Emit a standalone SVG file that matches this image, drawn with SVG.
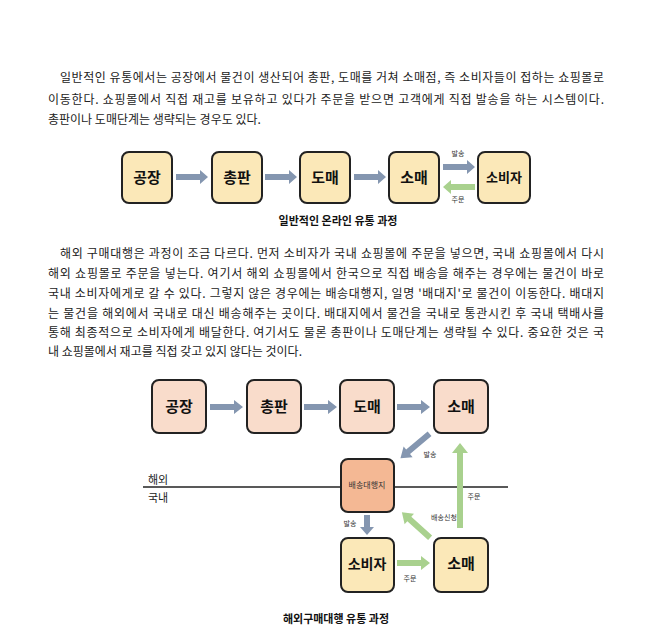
<svg xmlns="http://www.w3.org/2000/svg" width="652" height="641" viewBox="0 0 652 641">
<style>
.p{font-family:"Noto Sans CJK KR","Liberation Sans",sans-serif;font-size:12px;fill:#222}
.b{stroke:#222;stroke-width:2}
.y{fill:#fbe8b8}
.pk{fill:#f9dccb}
.or{fill:#f4b894}
.t{font-family:"Noto Sans CJK KR",sans-serif;font-weight:bold;font-size:15px;fill:#111;text-anchor:middle}
.s{font-family:"Noto Sans CJK KR",sans-serif;font-size:7px;fill:#333;text-anchor:middle}
.cap{font-family:"Noto Sans CJK KR",sans-serif;font-weight:bold;font-size:11px;fill:#111;text-anchor:middle}
.bl{fill:#8496b0}
.gr{fill:#a9d18e}
</style>
<defs>
<polygon id="da" points="-19,-3 9,-3 9,-7 19,0 9,7 9,3 -19,3"/>
</defs>
<rect width="652" height="641" fill="#fff"/>
<g id="para1">
<text class="p" x="60" y="82" textLength="544" lengthAdjust="spacing">일반적인 유통에서는 공장에서 물건이 생산되어 총판, 도매를 거쳐 소매점, 즉 소비자들이 접하는 쇼핑몰로</text>
<text class="p" x="48" y="104" textLength="556" lengthAdjust="spacing">이동한다. 쇼핑몰에서 직접 재고를 보유하고 있다가 주문을 받으면 고객에게 직접 발송을 하는 시스템이다.</text>
<text class="p" x="48" y="124">총판이나 도매단계는 생략되는 경우도 있다.</text>
</g>
<g id="para2">
<text class="p" x="60" y="258" textLength="544" lengthAdjust="spacing">해외 구매대행은 과정이 조금 다르다. 먼저 소비자가 국내 쇼핑몰에 주문을 넣으면, 국내 쇼핑몰에서 다시</text>
<text class="p" x="48" y="278" textLength="556" lengthAdjust="spacing">해외 쇼핑몰로 주문을 넣는다. 여기서 해외 쇼핑몰에서 한국으로 직접 배송을 해주는 경우에는 물건이 바로</text>
<text class="p" x="48" y="298" textLength="556" lengthAdjust="spacing">국내 소비자에게로 갈 수 있다. 그렇지 않은 경우에는 배송대행지, 일명 '배대지'로 물건이 이동한다. 배대지</text>
<text class="p" x="48" y="318" textLength="556" lengthAdjust="spacing">는 물건을 해외에서 국내로 대신 배송해주는 곳이다. 배대지에서 물건을 국내로 통관시킨 후 국내 택배사를</text>
<text class="p" x="48" y="337" textLength="556" lengthAdjust="spacing">통해 최종적으로 소비자에게 배달한다. 여기서도 물론 총판이나 도매단계는 생략될 수 있다. 중요한 것은 국</text>
<text class="p" x="48" y="356">내 쇼핑몰에서 재고를 직접 갖고 있지 않다는 것이다.</text>
</g>
<g id="d1-nodes">
<g id="d1-gongjang"><rect class="y b" x="122" y="152" width="50" height="51" rx="7"/><text class="t" x="147" y="183">공장</text></g>
<g id="d1-chongpan"><rect class="y b" x="212" y="152" width="50" height="51" rx="7"/><text class="t" x="237" y="183">총판</text></g>
<g id="d1-domae"><rect class="y b" x="300" y="152" width="50" height="51" rx="7"/><text class="t" x="325" y="183">도매</text></g>
<g id="d1-somae"><rect class="y b" x="389" y="152" width="50" height="51" rx="7"/><text class="t" x="414" y="183">소매</text></g>
<g id="d1-sobija"><rect class="y b" x="478" y="152" width="52" height="51" rx="7"/><text class="t" x="504" y="182" style="font-size:13px">소비자</text></g>
</g>
<g id="d1-connectors">
<polygon class="bl" points="176,174 200,174 200,170 208,177 200,184 200,180 176,180"/>
<polygon class="bl" points="265,174 289,174 289,170 297,177 289,184 289,180 265,180"/>
<polygon class="bl" points="354,174 378,174 378,170 386,177 378,184 378,180 354,180"/>
<polygon class="bl" points="443,164 467,164 467,160 475,167 467,174 467,170 443,170"/>
<polygon class="gr" points="475,184 451,184 451,180 443,187 451,194 451,190 475,190"/>
<text class="s" x="458" y="156">발송</text>
<text class="s" x="458" y="202">주문</text>
</g>
<text class="cap" x="338" y="225">일반적인 온라인 유통 과정</text>
<g id="d2-line"><line x1="143" y1="487" x2="508" y2="487" stroke="#222" stroke-width="1.5"/>
<text class="p" x="148" y="484" style="font-size:11px">해외</text>
<text class="p" x="148" y="502" style="font-size:11px">국내</text></g>
<g id="d2-nodes">
<g id="d2-gongjang"><rect class="pk b" x="152" y="380" width="54" height="53" rx="7"/><text class="t" x="179" y="412">공장</text></g>
<g id="d2-chongpan"><rect class="pk b" x="247" y="380" width="54" height="53" rx="7"/><text class="t" x="274" y="412">총판</text></g>
<g id="d2-domae"><rect class="pk b" x="340" y="380" width="54" height="53" rx="7"/><text class="t" x="367" y="412">도매</text></g>
<g id="d2-somae1"><rect class="pk b" x="434" y="380" width="54" height="53" rx="7"/><text class="t" x="461" y="412">소매</text></g>
<g id="d2-baedaeji"><rect class="or b" x="341" y="459" width="53" height="53" rx="7"/><text class="s" x="367" y="488" style="font-size:8px">배송대행지</text></g>
<g id="d2-sobija"><rect class="y b" x="341" y="538" width="53" height="54" rx="7"/><text class="t" x="367" y="569" style="font-size:14px">소비자</text></g>
<g id="d2-somae2"><rect class="y b" x="434" y="538" width="54" height="54" rx="7"/><text class="t" x="461" y="569">소매</text></g>
</g>
<g id="d2-connectors">
<polygon class="bl" points="210,404 234,404 234,400 243,407 234,414 234,410 210,410"/>
<polygon class="bl" points="304,404 328,404 328,400 337,407 328,414 328,410 304,410"/>
<polygon class="bl" points="397,404 421,404 421,400 430,407 421,414 421,410 397,410"/>
<use href="#da" class="bl" transform="translate(415,446) rotate(140)"/>
<polygon class="bl" points="364,515 370,515 370,527 374,527 367,535 360,527 364,527"/>
<polygon class="gr" points="397,560 421,560 421,556 430,563 421,570 421,566 397,566"/>
<polygon class="gr" points="457,528 457,453 452,453 460,443 468,453 463,453 463,528"/>
<use href="#da" class="gr" transform="translate(416,525) rotate(222)"/>
<text class="s" x="430" y="457">발송</text>
<text class="s" x="474" y="499">주문</text>
<text class="s" x="444" y="520">배송신청</text>
<text class="s" x="350" y="526">발송</text>
<text class="s" x="410" y="581">주문</text>
</g>
<text class="cap" x="336" y="623">해외구매대행 유통 과정</text>
</svg>
